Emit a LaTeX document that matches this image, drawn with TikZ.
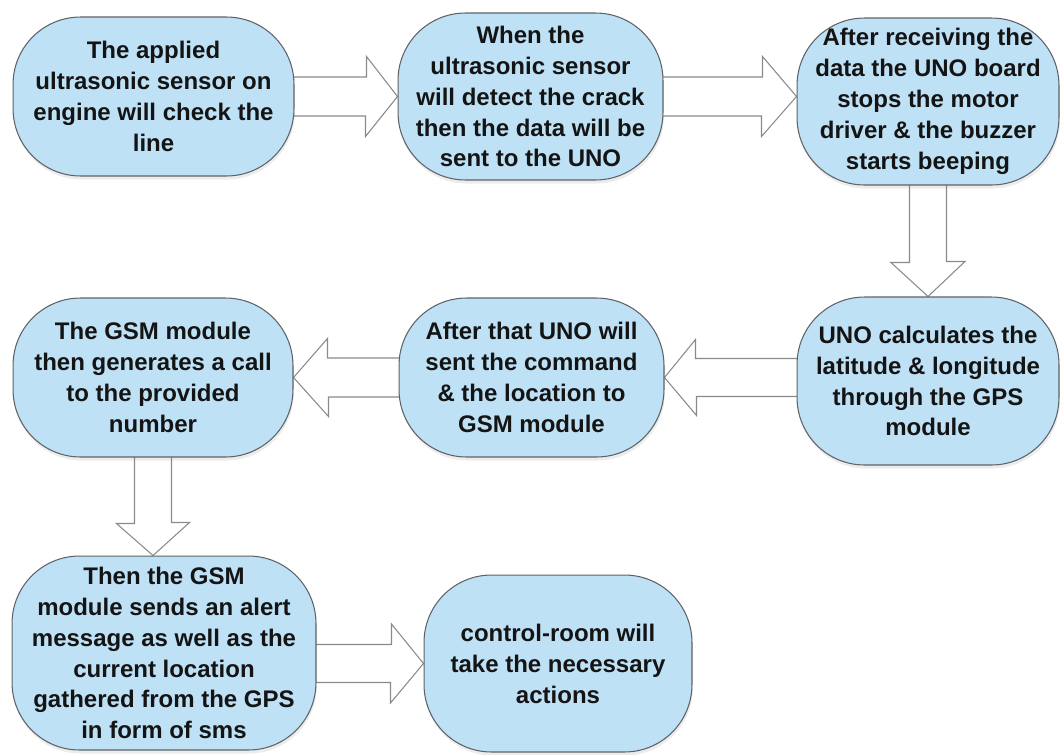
\documentclass[tikz,border=0pt]{standalone}
\usepackage{fontspec}
\setmainfont{Liberation Sans}
\usetikzlibrary{backgrounds,shadows}
\definecolor{BoxBlue}{HTML}{BFE1F6}
\definecolor{BoxEdge}{HTML}{5F6368}
\definecolor{ArrowEdge}{HTML}{8A8A8A}
\definecolor{TextBlack}{HTML}{141414}

\begin{document}
\begin{tikzpicture}[x=0.02cm,y=-0.02cm,line join=round,
  box/.style={draw=BoxEdge,fill=BoxBlue,line width=.6pt,rounded corners=1.35cm,
    align=center,inner sep=0pt,text=TextBlack,
    font=\fontsize{13.66}{17.6}\selectfont\bfseries,
    drop shadow={shadow xshift=.5pt,shadow yshift=-2pt,opacity=.15}},
  blockarrow/.style={draw=ArrowEdge,fill=white,line width=.6pt}]
  \useasboundingbox (0,0) rectangle (1061,754);
  % top row
  \node[box,minimum width=5.62cm,minimum height=3.18cm] (sensor) at (153.5,96.5) {The applied\\ultrasonic sensor on\\engine will check the\\line};
  \node[box,minimum width=5.3cm,minimum height=3.34cm] (detect) at (530.5,96.5) {When the\\ultrasonic sensor\\will detect the crack\\then the data will be\\sent to the UNO};
  \node[box,minimum width=5.24cm,minimum height=3.34cm] (stop) at (928,101.5) {After receiving the\\data the UNO board\\stops the motor\\driver \& the buzzer\\starts beeping};
  % middle row
  \node[box,minimum width=5.24cm,minimum height=3.36cm] (gps) at (928,381) {UNO calculates the\\latitude \& longitude\\through the GPS\\module};
  \node[box,minimum width=5.3cm,minimum height=3.18cm] (command) at (531.5,377.5) {After that UNO will\\sent the command\\\& the location to\\GSM module};
  \node[box,minimum width=5.6cm,minimum height=3.18cm] (call) at (153,377.5) {The GSM module\\then generates a call\\to the provided\\number};
  % bottom row
  \node[box,minimum width=6.08cm,minimum height=3.88cm] (sms) at (164,653) {Then the GSM\\module sends an alert\\message as well as the\\current location\\gathered from the GPS\\in form of sms};
  \node[box,minimum width=5.36cm,minimum height=3.54cm] (room) at (558,663.5) {control-room will\\take the necessary\\actions};

  \begin{scope}[on background layer]
    \draw[blockarrow] (sensor.east) ++(-2,-19.5) -- ++(74,0) -- ++(0,-20.5) -- (detect.west) -- ++(-32,40) -- ++(0,-20.5) -- ++(-74,0) -- cycle;
    \draw[blockarrow] (detect.east) ++(-2,-19.5) -- ++(101,0) -- ++(0,-20.5) -- (detect.east -| stop.west) -- ++(-35,40) -- ++(0,-20.5) -- ++(-101,0) -- cycle;
    \draw[blockarrow] (stop.south) ++(-18.5,-2) -- ++(0,79) -- ++(-18.5,0) -- (gps.north) -- ++(37,-35) -- ++(-18.5,0) -- ++(0,-79) -- cycle;
    \draw[blockarrow] (gps.west |- command.east) ++(2,-19) -- ++(-103,0) -- ++(0,-19) -- (command.east) -- ++(32,38) -- ++(0,-19) -- ++(103,0) -- cycle;
    \draw[blockarrow] (command.west) ++(2,-19.5) -- ++(-73,0) -- ++(0,-19.5) -- (call.east) -- ++(35,39) -- ++(0,-19.5) -- ++(73,0) -- cycle;
    \draw[blockarrow] (call.south) ++(-18.5,-2) -- ++(0,68) -- ++(-18,0) -- (call.south |- sms.north) -- ++(36.5,-33) -- ++(-18,0) -- ++(0,-68) -- cycle;
    \draw[blockarrow] (sms.east |- room.west) ++(-2,-19) -- ++(77,0) -- ++(0,-20.5) -- (room.west) -- ++(-33,39.5) -- ++(0,-20.5) -- ++(-77,0) -- cycle;
  \end{scope}
\end{tikzpicture}
\end{document}
